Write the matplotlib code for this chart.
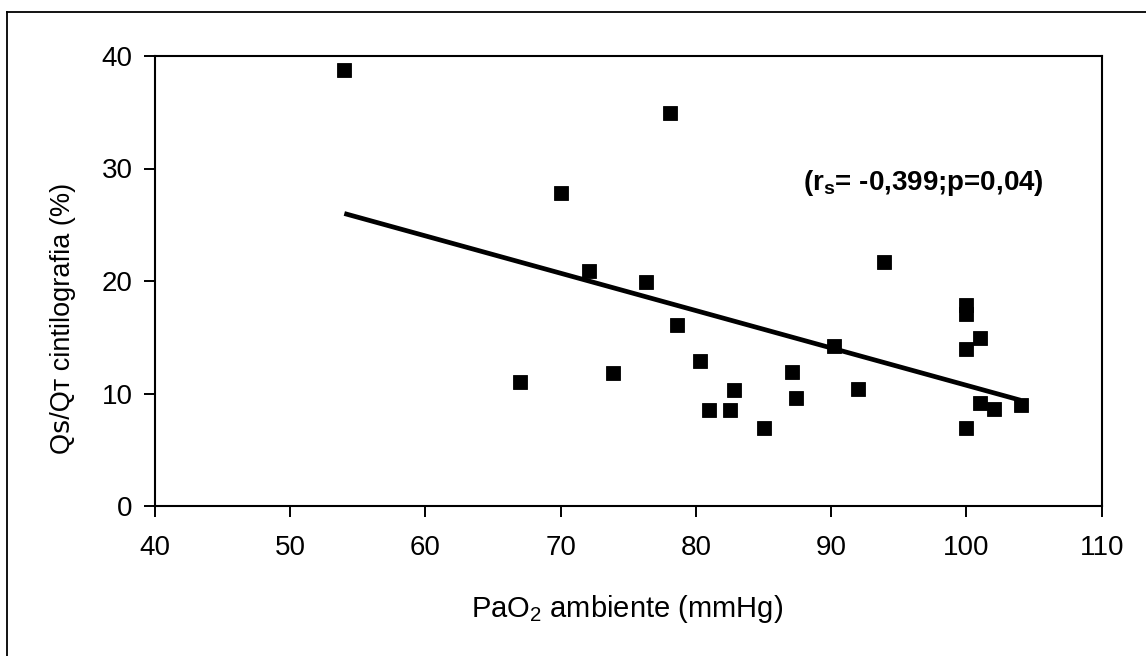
import numpy as np
import matplotlib
matplotlib.use('Agg')
import matplotlib.pyplot as plt
from matplotlib.lines import Line2D

plt.rcParams['font.family'] = ['Liberation Sans', 'DejaVu Sans']
plt.rcParams['mathtext.fontset'] = 'custom'
plt.rcParams['mathtext.rm'] = 'Liberation Sans'
plt.rcParams['mathtext.bf'] = 'Liberation Sans:bold'

# PaO2 ambiente (mmHg) vs Qs/Qt cintilografia (%)
pao2 = [54.0, 67.0, 70.0, 72.1, 73.9, 76.3, 78.1, 78.6, 80.3, 81.0, 82.5, 82.8,
        85.0, 87.1, 87.4, 90.2, 92.0, 93.9, 100.0, 100.0, 100.0, 100.0, 101.0,
        101.0, 102.0, 104.0]
qsqt = [38.8, 11.0, 27.8, 20.9, 11.8, 19.9, 34.9, 16.1, 12.9, 8.5, 8.5, 10.3,
        6.9, 11.9, 9.6, 14.2, 10.4, 21.7, 17.9, 17.1, 14.0, 6.9, 14.9,
        9.2, 8.6, 9.0]

# regression line endpoints
trend_x = [54.0, 104.0]
trend_y = [26.0, 9.4]

xticks = [40, 50, 60, 70, 80, 90, 100, 110]
yticks = [0, 10, 20, 30, 40]

W, H = 1146, 656
fig = plt.figure(figsize=(W / 100, H / 100), dpi=100)
ax = fig.add_axes([155 / W, 1 - 506 / H, (1101.7 - 155) / W, (506 - 56) / H])

ax.plot(pao2, qsqt, linestyle='none', marker='s', markersize=10.2,
        color='black', markeredgewidth=0.6)
ax.plot(trend_x, trend_y, color='black', linewidth=3.4, solid_capstyle='butt')

ax.set_xlim(40, 110)
ax.set_ylim(0, 40)
ax.set_xticks(xticks)
ax.set_yticks(yticks)
ax.tick_params(axis='x', direction='out', length=8, width=1.4, labelsize=20, pad=13)
ax.tick_params(axis='y', direction='out', length=8, width=1.4, labelsize=20, pad=8)
for s in ax.spines.values():
    s.set_linewidth(1.5)

ax.text(87.9, 28.7, r'(r$_\mathbf{s}$= -0,399;p=0,04)', fontsize=20,
        fontweight='bold', ha='left', va='center')

fig.text(627 / W, 1 - 609 / H, r'PaO$_\mathregular{2}$ ambiente (mmHg)',
         fontsize=21, ha='center', va='center')
fig.text(63 / W, 1 - 318 / H, 'Q\ua731/Q\u1d1b cintilografia (%)',
         fontsize=19.5, rotation=90, ha='center', va='center')

# outer frame
fig.add_artist(Line2D([7 / W, 1.0], [1 - 12 / H, 1 - 12 / H], color='black', linewidth=1.3))
fig.add_artist(Line2D([7 / W, 7 / W], [0.0, 1 - 12 / H], color='black', linewidth=1.3))

fig.savefig('out.png', dpi=100)
